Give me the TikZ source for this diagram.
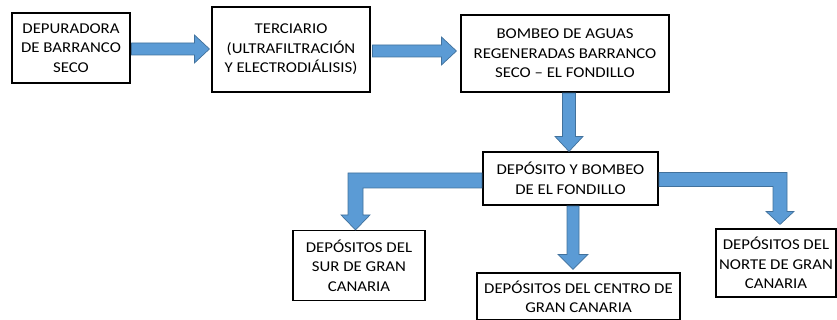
\documentclass[tikz,border=0pt]{standalone}
\usepackage{fontspec}
\setmainfont{Carlito}[FakeStretch=1.12]
\usetikzlibrary{calc}
\definecolor{arrowblue}{HTML}{5B9BD5}
\definecolor{arrowedge}{HTML}{41719C}
\tikzset{
  box/.style={draw=black, line width=1.1pt, fill=white, inner sep=0pt, align=center,
    font=\fontsize{15}{19.5}\selectfont},
  fat/.style={fill=arrowblue, draw=arrowedge, line width=0.7pt, line join=miter}
}
\begin{document}
\begin{tikzpicture}[x=1pt,y=-1pt]
\useasboundingbox (0,0) rectangle (837,320);
% boxes
\node[box, minimum width=118, minimum height=70] (b1) at (71,48) {DEPURADORA\\DE BARRANCO\\SECO};
\node[box, minimum width=158, minimum height=85] (b2) at (291,49.5) {TERCIARIO\\(ULTRAFILTRACIÓN\\Y ELECTRODIÁLISIS)};
\node[box, minimum width=208, minimum height=77] (b3) at (565,53.5) {BOMBEO DE AGUAS\\REGENERADAS BARRANCO\\SECO -- EL FONDILLO};
\node[box, minimum width=175, minimum height=53] (b4) at (570.5,178.5) {DEPÓSITO Y BOMBEO\\DE EL FONDILLO};
\node[box, minimum width=132, minimum height=70] (b5) at (359,265.5) {DEPÓSITOS DEL\\SUR DE GRAN\\CANARIA};
\node[box, minimum width=203, minimum height=47, text depth=-6pt] (b6) at (578.5,296.5) {DEPÓSITOS DEL CENTRO DE\\GRAN CANARIA};
\node[box, minimum width=120, minimum height=68] (b7) at (776,263) {DEPÓSITOS DEL\\NORTE DE GRAN\\CANARIA};
% arrow b1 -> b2
\coordinate (a1s) at ($(b1.east)+(1,1)$);
\coordinate (a1t) at ($(b2.west)+(-2,-0.5)$);
\filldraw[fat] ($(a1s)+(0,-6)$) -- ($(a1t)+(-15,-6)$) -- ($(a1t)+(-15,-14)$) -- (a1t)
  -- ($(a1t)+(-15,14)$) -- ($(a1t)+(-15,6)$) -- ($(a1s)+(0,6)$) -- cycle;
% arrow b2 -> b3
\coordinate (a2s) at ($(b2.east)+(2,1.5)$);
\coordinate (a2t) at ($(b3.west)+(-4,-2.5)$);
\filldraw[fat] ($(a2s)+(0,-6)$) -- ($(a2t)+(-15,-6)$) -- ($(a2t)+(-15,-14)$) -- (a2t)
  -- ($(a2t)+(-15,14)$) -- ($(a2t)+(-15,6)$) -- ($(a2s)+(0,6)$) -- cycle;
% arrow b3 -> b4
\coordinate (a3t) at ($(b4.north)+(-1.5,0)$);
\coordinate (a3s) at (a3t |- b3.south);
\filldraw[fat] ($(a3s)+(-6.5,0.5)$) -- ($(a3t)+(-6.5,-15)$) -- ($(a3t)+(-14,-15)$) -- (a3t)
  -- ($(a3t)+(14,-15)$) -- ($(a3t)+(6.5,-15)$) -- ($(a3s)+(6.5,0.5)$) -- cycle;
% arrow b4 -> b5
\coordinate (a4s) at ($(b4.west)+(-0.5,2)$);
\coordinate (a4t) at ($(b5.north)+(-3.5,0)$);
\filldraw[fat] ($(a4s)+(0,-7.5)$) -- ($(a4t|-a4s)+(-7.5,-7.5)$) -- ($(a4t)+(-7.5,-15)$)
  -- ($(a4t)+(-14.5,-15)$) -- (a4t) -- ($(a4t)+(14.5,-15)$) -- ($(a4t)+(7.5,-15)$)
  -- ($(a4t|-a4s)+(7.5,7.5)$) -- ($(a4s)+(0,7.5)$) -- cycle;
% arrow b4 -> b6
\coordinate (a5t) at ($(b6.north)+(-5.5,-3)$);
\coordinate (a5s) at (a5t |- b4.south);
\filldraw[fat] ($(a5s)+(-6,0.5)$) -- ($(a5t)+(-6,-15)$) -- ($(a5t)+(-15,-15)$) -- (a5t)
  -- ($(a5t)+(15,-15)$) -- ($(a5t)+(6,-15)$) -- ($(a5s)+(6,0.5)$) -- cycle;
% arrow b4 -> b7
\coordinate (a6s) at ($(b4.east)+(0.5,1)$);
\coordinate (a6t) at ($(b7.north)+(4,-4)$);
\filldraw[fat] ($(a6s)+(0,-7)$) -- ($(a6t|-a6s)+(7,-7)$) -- ($(a6t)+(7,-13)$)
  -- ($(a6t)+(14,-13)$) -- (a6t) -- ($(a6t)+(-14,-13)$) -- ($(a6t)+(-7,-13)$)
  -- ($(a6t|-a6s)+(-7,7)$) -- ($(a6s)+(0,7)$) -- cycle;
\end{tikzpicture}
\end{document}
